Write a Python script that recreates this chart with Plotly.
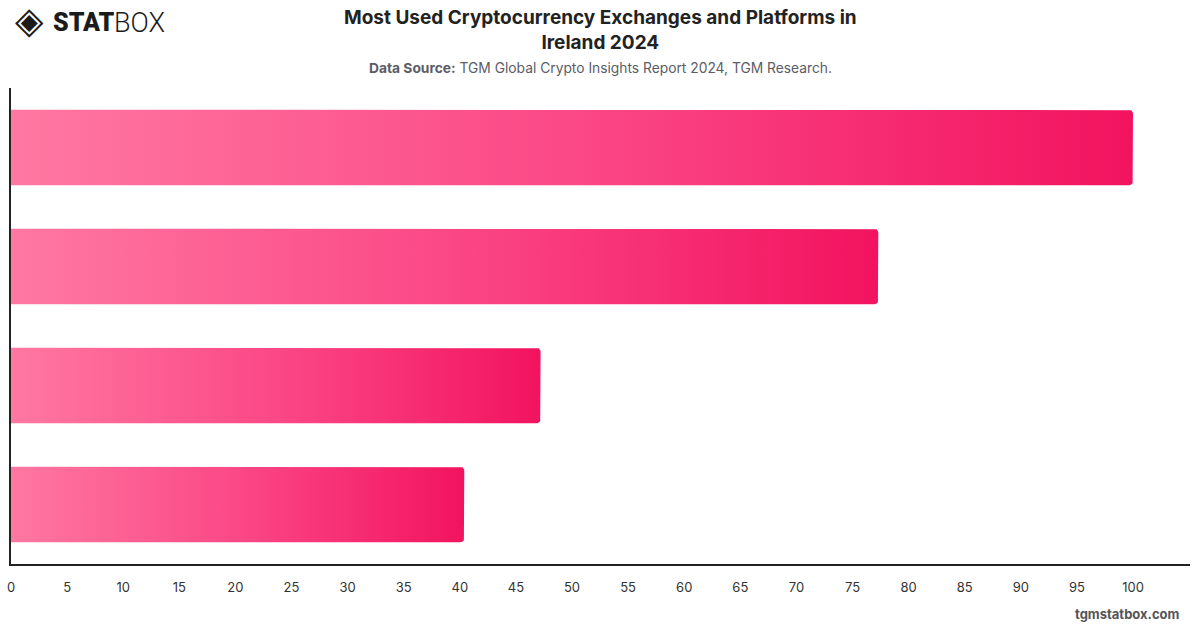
import numpy as np
import plotly.graph_objects as go

# ---- data ----
platforms = ["Platform 1", "Platform 2", "Platform 3", "Platform 4"]
values = [100, 77.3, 47.2, 40.4]
x_ticks = list(range(0, 101, 5))

title_text = "Most Used Cryptocurrency Exchanges and Platforms in<br>Ireland 2024"
source_text = "<b>Data Source:</b> TGM Global Crypto Insights Report 2024, TGM Research."

# ---- layout geometry ----
W, H = 1200, 628
ml, mr, mt, mb = 11, 10, 88, 64
x_max = 105.08
plot_w = W - ml - mr
plot_h = H - mt - mb
px_per_x = plot_w / x_max
px_per_y = plot_h / len(platforms)
half = 37.75 / px_per_y    # half bar thickness in category units
radius_px = 4

fig = go.Figure()

rx = radius_px / px_per_x
ry = radius_px / px_per_y
theta = np.linspace(0, np.pi / 2, 8)

for i, (name, v) in enumerate(zip(platforms, values)):
    y0, y1 = i - half, i + half
    xs = [0, v - rx]
    ys = [y0, y0]
    for t in theta:
        xs.append(v - rx + rx * np.sin(t))
        ys.append(y0 + ry - ry * np.cos(t))
    for t in theta:
        xs.append(v - rx + rx * np.cos(t))
        ys.append(y1 - ry + ry * np.sin(t))
    xs += [v - rx, 0, 0]
    ys += [y1, y1, y0]
    fig.add_trace(go.Scatter(
        x=xs, y=ys, mode="lines", fill="toself",
        line=dict(width=0),
        fillgradient=dict(
            type="horizontal",
            colorscale=[[0, "#ff78a2"], [0.5, "#fb4886"], [1, "#f2135f"]],
            start=0, stop=v,
        ),
        hoverinfo="text", text=f"{name}: {v}",
        showlegend=False, name=name,
    ))

fig.update_layout(
    width=W, height=H,
    margin=dict(l=ml, r=mr, t=mt, b=mb, autoexpand=False),
    paper_bgcolor="white", plot_bgcolor="white",
    font=dict(family="Inter, Roboto, sans-serif", color="#333"),
    showlegend=False,
    xaxis=dict(
        range=[0, x_max], tickvals=x_ticks, ticktext=[str(t) for t in x_ticks],
        showgrid=False, zeroline=False, showline=True, linecolor="#222",
        linewidth=1.5, ticks="", ticklabelstandoff=11,
        tickfont=dict(size=13, color="#333"),
        fixedrange=True,
    ),
    yaxis=dict(
        range=[len(platforms) - 0.5, -0.5],
        showgrid=False, zeroline=False, showline=True, linecolor="#222",
        linewidth=1.5, showticklabels=False, ticks="", fixedrange=True,
    ),
)

# title & subtitle
fig.add_annotation(
    text=f"<b>{title_text}</b>", x=0.5, y=1, xref="paper", yref="paper",
    yshift=mt - 4, xanchor="center", yanchor="top", showarrow=False,
    font=dict(size=19, color="#222", family="Inter, Roboto, sans-serif"),
)
fig.add_annotation(
    text=source_text, x=0.5, y=1, xref="paper", yref="paper",
    yshift=mt - 58, xanchor="center", yanchor="top", showarrow=False,
    font=dict(size=13.8, color="#5c5c66", family="Inter, Roboto, sans-serif"),
)

# logo
fig.add_annotation(
    text="◈", xref="paper", yref="paper",
    x=(13 - ml) / plot_w, y=1, yshift=mt + 3,
    xanchor="left", yanchor="top", showarrow=False,
    font=dict(size=37, color="#1b1b1b", family="DejaVu Sans"),
)
fig.add_annotation(
    text="STAT", xref="paper", yref="paper",
    x=(51 - ml) / plot_w, y=1, yshift=mt - 6,
    xanchor="left", yanchor="top", showarrow=False,
    font=dict(size=25, color="#1b1b1b", family="Roboto", weight=900),
)
fig.add_annotation(
    text="BOX", xref="paper", yref="paper",
    x=(112 - ml) / plot_w, y=1, yshift=mt - 5,
    xanchor="left", yanchor="top", showarrow=False,
    font=dict(size=27, color="#1b1b1b", family="Roboto", weight=300),
)

# watermark
fig.add_annotation(
    text="<b>tgmstatbox.com</b>", xref="paper", yref="paper",
    x=1, y=0, xshift=-8, yshift=-mb + 4,
    xanchor="right", yanchor="bottom", showarrow=False,
    font=dict(size=13, color="#555", family="Inter, Roboto, sans-serif"),
)

fig.write_html("out.html")
